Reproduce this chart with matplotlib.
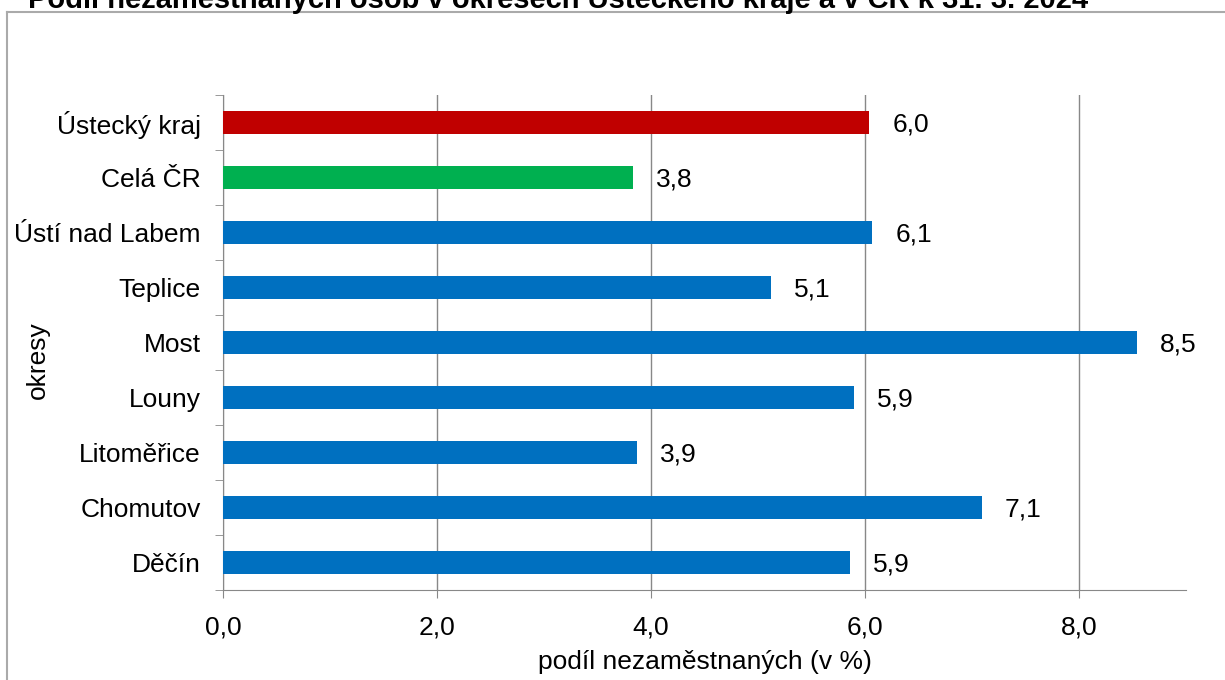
import matplotlib
matplotlib.use("Agg")
import matplotlib.pyplot as plt
from matplotlib.lines import Line2D

# data, top to bottom as shown in the chart
okresy = ["Ústecký kraj", "Celá ČR", "Ústí nad Labem", "Teplice", "Most",
          "Louny", "Litoměřice", "Chomutov", "Děčín"]
podil = [6.04, 3.83, 6.07, 5.12, 8.54, 5.90, 3.87, 7.09, 5.86]
barvy = ["#C00000", "#00B050"] + ["#0070C0"] * 7
x_ticks = [0, 2, 4, 6, 8]

title = "Podíl nezaměstnaných osob v okresech Ústeckého kraje a v ČR k 31. 3. 2024"

plt.rcParams["font.family"] = ["Liberation Sans", "DejaVu Sans"]
FS = 19

W, H = 1225, 680
fig = plt.figure(figsize=(W / 100, H / 100), dpi=100)

# plot area in pixels: x 223..1186, y 95..590
left, right, top, bottom = 223, 1186, 95, 590
ax = fig.add_axes([left / W, 1 - bottom / H, (right - left) / W, (bottom - top) / H])

ypos = list(range(len(okresy)))[::-1]
ax.barh(ypos, podil, height=0.42, color=barvy, zorder=3)

for y, v in zip(ypos, podil):
    ax.annotate(f"{v:.1f}".replace(".", ","), (v, y), xytext=(23, -2),
                textcoords="offset pixels", va="center", ha="left", fontsize=FS)

ax.set_xlim(0, 9)
ax.set_ylim(-0.5, len(okresy) - 0.5)
ax.set_xticks(x_ticks)
ax.set_xticklabels([f"{t:.1f}".replace(".", ",") for t in x_ticks], fontsize=FS)
ax.set_yticks(ypos)
ax.set_yticklabels(okresy, fontsize=FS)
ax.tick_params(axis="y", length=0, pad=16)
ax.tick_params(axis="x", length=6, color="#888888", pad=12)
# outward tick marks on y axis at category boundaries
ax.set_yticks([i - 0.5 for i in range(len(okresy) + 1)], minor=True)
ax.tick_params(axis="y", which="minor", length=6, color="#888888")

ax.grid(axis="x", color="#888888", linewidth=1, zorder=0)
for s in ["top", "right"]:
    ax.spines[s].set_visible(False)
for s in ["left", "bottom"]:
    ax.spines[s].set_color("#888888")

ax.set_xlabel("podíl nezaměstnaných (v %)", fontsize=FS)
ax.xaxis.set_label_coords(0.5, -0.122)
ax.set_ylabel("okresy", fontsize=FS)
ax.yaxis.set_label_coords((50 - left) / (right - left), 1 - (360 - top) / (bottom - top))

# outer chart border (top and left visible)
fig.add_artist(Line2D([7 / W, 7 / W], [0, 1 - 12 / H], color="#aaaaaa", lw=1.5,
                      transform=fig.transFigure))
fig.add_artist(Line2D([7 / W, 1], [1 - 12 / H, 1 - 12 / H], color="#aaaaaa", lw=1.5,
                      transform=fig.transFigure))

fig.text(28 / W, 1 - 8 / H, title, fontsize=21, fontweight="bold", ha="left", va="baseline")

fig.savefig("out.png", dpi=100)
